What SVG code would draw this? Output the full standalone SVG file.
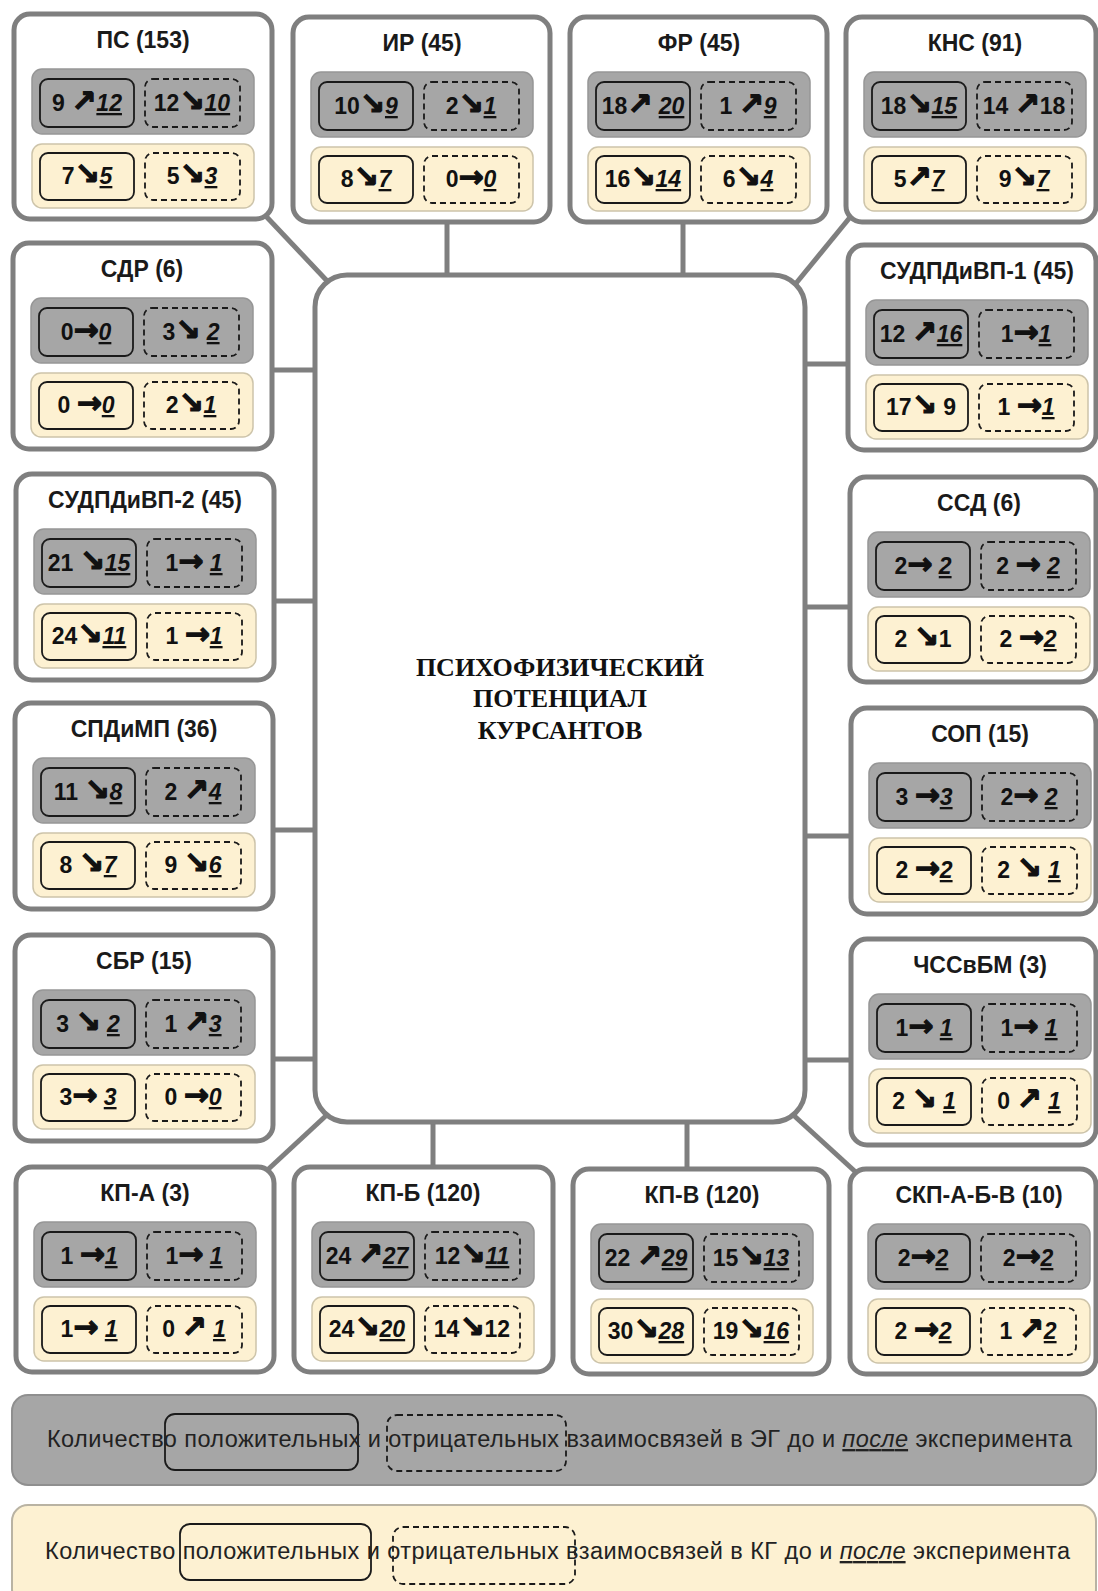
<svg xmlns="http://www.w3.org/2000/svg" xmlns:xlink="http://www.w3.org/1999/xlink" width="1098" height="1591" viewBox="0 0 1098 1591">
<style>
.ob{fill:#fff;stroke:#7f7f7f;stroke-width:5}
.gp{fill:#a6a6a6;stroke:#969696;stroke-width:1.5}
.yp{fill:#fdf1d2;stroke:#cdc4aa;stroke-width:1.5}
.sb{fill:none;stroke:#1a1a1a;stroke-width:1.8}
.db{fill:none;stroke:#1a1a1a;stroke-width:1.8;stroke-dasharray:6 4}
.t{font-family:"Liberation Sans",Arial,sans-serif;font-size:23px;font-weight:bold;text-anchor:middle;fill:#1a1a1a}
.c{font-family:"Liberation Sans",Arial,sans-serif;font-size:23px;font-weight:bold;text-anchor:middle;fill:#111}
.a{font-family:"DejaVu Sans",sans-serif;font-size:30px;font-weight:bold;font-style:normal;stroke:#111;stroke-width:1.2}
.u{font-style:italic;text-decoration:underline}
.conn line{stroke:#7f7f7f;stroke-width:5}
.ctr{fill:#fff;stroke:#7f7f7f;stroke-width:5}
.ct{font-family:"Liberation Serif","Times New Roman",serif;font-size:26px;font-weight:bold;text-anchor:middle;fill:#111}
.lg{font-family:"Liberation Sans",Arial,sans-serif;font-size:23.5px;fill:#222}
</style>
<defs>
<g id="inner">
<rect class="gp" x="18" y="55" width="222" height="65" rx="10"/>
<rect class="sb" x="26" y="65" width="94" height="48" rx="8"/>
<rect class="db" x="131" y="65" width="95" height="48" rx="8"/>
<rect class="yp" x="18" y="130" width="222" height="64" rx="10"/>
<rect class="sb" x="26" y="139" width="94" height="47" rx="8"/>
<rect class="db" x="131" y="139" width="95" height="47" rx="8"/>
</g>
</defs>

<g id="connectors" class="conn">
<line x1="262" y1="212" x2="330" y2="284"/>
<line x1="447" y1="215" x2="447" y2="282"/>
<line x1="683" y1="215" x2="683" y2="282"/>
<line x1="856" y1="210" x2="793" y2="287"/>
<line x1="265" y1="370" x2="322" y2="370"/>
<line x1="265" y1="601" x2="322" y2="601"/>
<line x1="265" y1="830" x2="322" y2="830"/>
<line x1="265" y1="1059" x2="322" y2="1059"/>
<line x1="798" y1="364" x2="856" y2="364"/>
<line x1="798" y1="607" x2="856" y2="607"/>
<line x1="798" y1="836" x2="856" y2="836"/>
<line x1="798" y1="1060" x2="856" y2="1060"/>
<line x1="262" y1="1175" x2="330" y2="1112"/>
<line x1="433" y1="1115" x2="433" y2="1172"/>
<line x1="687" y1="1115" x2="687" y2="1174"/>
<line x1="790" y1="1112" x2="860" y2="1176"/>
</g>

<g id="center">
<rect class="ctr" x="315" y="275" width="490" height="847" rx="32"/>
<text class="ct" x="560" y="676">ПСИХОФИЗИЧЕСКИЙ</text>
<text class="ct" x="560" y="707">ПОТЕНЦИАЛ</text>
<text class="ct" x="560" y="739">КУРСАНТОВ</text>
</g>

<g id="n-ps" transform="translate(14,14)">
<rect class="ob" width="258" height="205" rx="16"/><use xlink:href="#inner"/>
<text class="t" x="129" y="34">ПС (153)</text>
<text class="c" x="73" y="97">9 <tspan class="a">↗</tspan><tspan class="u">12</tspan></text>
<text class="c" x="178" y="97">12<tspan class="a">↘</tspan><tspan class="u">10</tspan></text>
<text class="c" x="73" y="170">7<tspan class="a">↘</tspan><tspan class="u">5</tspan></text>
<text class="c" x="178" y="170">5<tspan class="a">↘</tspan><tspan class="u">3</tspan></text>
</g>

<g id="n-ir" transform="translate(293,17)">
<rect class="ob" width="257" height="205" rx="16"/><use xlink:href="#inner"/>
<text class="t" x="129" y="34">ИР (45)</text>
<text class="c" x="73" y="97">10<tspan class="a">↘</tspan><tspan class="u">9</tspan></text>
<text class="c" x="178" y="97">2<tspan class="a">↘</tspan><tspan class="u">1</tspan></text>
<text class="c" x="73" y="170">8<tspan class="a">↘</tspan><tspan class="u">7</tspan></text>
<text class="c" x="178" y="170">0<tspan class="a">→</tspan><tspan class="u">0</tspan></text>
</g>

<g id="n-fr" transform="translate(570,17)">
<rect class="ob" width="257" height="205" rx="16"/><use xlink:href="#inner"/>
<text class="t" x="129" y="34">ФР (45)</text>
<text class="c" x="73" y="97">18<tspan class="a">↗</tspan> <tspan class="u">20</tspan></text>
<text class="c" x="178" y="97">1 <tspan class="a">↗</tspan><tspan class="u">9</tspan></text>
<text class="c" x="73" y="170">16<tspan class="a">↘</tspan><tspan class="u">14</tspan></text>
<text class="c" x="178" y="170">6<tspan class="a">↘</tspan><tspan class="u">4</tspan></text>
</g>

<g id="n-kns" transform="translate(846,17)">
<rect class="ob" width="250" height="205" rx="16"/><use xlink:href="#inner"/>
<text class="t" x="129" y="34">КНС (91)</text>
<text class="c" x="73" y="97">18<tspan class="a">↘</tspan><tspan class="u">15</tspan></text>
<text class="c" x="178" y="97">14 <tspan class="a">↗</tspan>18</text>
<text class="c" x="73" y="170">5<tspan class="a">↗</tspan><tspan class="u">7</tspan></text>
<text class="c" x="178" y="170">9<tspan class="a">↘</tspan><tspan class="u">7</tspan></text>
</g>

<g id="n-sdr" transform="translate(13,243)">
<rect class="ob" width="259" height="206" rx="16"/><use xlink:href="#inner"/>
<text class="t" x="129" y="34">СДР (6)</text>
<text class="c" x="73" y="97">0<tspan class="a">→</tspan><tspan class="u">0</tspan></text>
<text class="c" x="178" y="97">3<tspan class="a">↘</tspan> <tspan class="u">2</tspan></text>
<text class="c" x="73" y="170">0 <tspan class="a">→</tspan><tspan class="u">0</tspan></text>
<text class="c" x="178" y="170">2<tspan class="a">↘</tspan><tspan class="u">1</tspan></text>
</g>

<g id="n-sudpdivp2" transform="translate(16,474)">
<rect class="ob" width="258" height="206" rx="16"/><use xlink:href="#inner"/>
<text class="t" x="129" y="34">СУДПДиВП-2 (45)</text>
<text class="c" x="73" y="97">21 <tspan class="a">↘</tspan><tspan class="u">15</tspan></text>
<text class="c" x="178" y="97">1<tspan class="a">→</tspan> <tspan class="u">1</tspan></text>
<text class="c" x="73" y="170">24<tspan class="a">↘</tspan><tspan class="u">11</tspan></text>
<text class="c" x="178" y="170">1 <tspan class="a">→</tspan><tspan class="u">1</tspan></text>
</g>

<g id="n-spdimp" transform="translate(15,703)">
<rect class="ob" width="258" height="206" rx="16"/><use xlink:href="#inner"/>
<text class="t" x="129" y="34">СПДиМП (36)</text>
<text class="c" x="73" y="97">11 <tspan class="a">↘</tspan><tspan class="u">8</tspan></text>
<text class="c" x="178" y="97">2 <tspan class="a">↗</tspan><tspan class="u">4</tspan></text>
<text class="c" x="73" y="170">8 <tspan class="a">↘</tspan><tspan class="u">7</tspan></text>
<text class="c" x="178" y="170">9 <tspan class="a">↘</tspan><tspan class="u">6</tspan></text>
</g>

<g id="n-sbr" transform="translate(15,935)">
<rect class="ob" width="258" height="206" rx="16"/><use xlink:href="#inner"/>
<text class="t" x="129" y="34">СБР (15)</text>
<text class="c" x="73" y="97">3 <tspan class="a">↘</tspan> <tspan class="u">2</tspan></text>
<text class="c" x="178" y="97">1 <tspan class="a">↗</tspan><tspan class="u">3</tspan></text>
<text class="c" x="73" y="170">3<tspan class="a">→</tspan> <tspan class="u">3</tspan></text>
<text class="c" x="178" y="170">0 <tspan class="a">→</tspan><tspan class="u">0</tspan></text>
</g>

<g id="n-sudpdivp1" transform="translate(848,245)">
<rect class="ob" width="248" height="205" rx="16"/><use xlink:href="#inner"/>
<text class="t" x="129" y="34">СУДПДиВП-1 (45)</text>
<text class="c" x="73" y="97">12 <tspan class="a">↗</tspan><tspan class="u">16</tspan></text>
<text class="c" x="178" y="97">1<tspan class="a">→</tspan><tspan class="u">1</tspan></text>
<text class="c" x="73" y="170">17<tspan class="a">↘</tspan> 9</text>
<text class="c" x="178" y="170">1 <tspan class="a">→</tspan><tspan class="u">1</tspan></text>
</g>

<g id="n-ssd" transform="translate(850,477)">
<rect class="ob" width="246" height="205" rx="16"/><use xlink:href="#inner"/>
<text class="t" x="129" y="34">ССД (6)</text>
<text class="c" x="73" y="97">2<tspan class="a">→</tspan> <tspan class="u">2</tspan></text>
<text class="c" x="178" y="97">2 <tspan class="a">→</tspan> <tspan class="u">2</tspan></text>
<text class="c" x="73" y="170">2 <tspan class="a">↘</tspan>1</text>
<text class="c" x="178" y="170">2 <tspan class="a">→</tspan><tspan class="u">2</tspan></text>
</g>

<g id="n-sop" transform="translate(851,708)">
<rect class="ob" width="245" height="206" rx="16"/><use xlink:href="#inner"/>
<text class="t" x="129" y="34">СОП (15)</text>
<text class="c" x="73" y="97">3 <tspan class="a">→</tspan><tspan class="u">3</tspan></text>
<text class="c" x="178" y="97">2<tspan class="a">→</tspan> <tspan class="u">2</tspan></text>
<text class="c" x="73" y="170">2 <tspan class="a">→</tspan><tspan class="u">2</tspan></text>
<text class="c" x="178" y="170">2 <tspan class="a">↘</tspan> <tspan class="u">1</tspan></text>
</g>

<g id="n-chssvbm" transform="translate(851,939)">
<rect class="ob" width="245" height="206" rx="16"/><use xlink:href="#inner"/>
<text class="t" x="129" y="34">ЧССвБМ (3)</text>
<text class="c" x="73" y="97">1<tspan class="a">→</tspan> <tspan class="u">1</tspan></text>
<text class="c" x="178" y="97">1<tspan class="a">→</tspan> <tspan class="u">1</tspan></text>
<text class="c" x="73" y="170">2 <tspan class="a">↘</tspan> <tspan class="u">1</tspan></text>
<text class="c" x="178" y="170">0 <tspan class="a">↗</tspan> <tspan class="u">1</tspan></text>
</g>

<g id="n-kpa" transform="translate(16,1167)">
<rect class="ob" width="258" height="205" rx="16"/><use xlink:href="#inner"/>
<text class="t" x="129" y="34">КП-А (3)</text>
<text class="c" x="73" y="97">1 <tspan class="a">→</tspan><tspan class="u">1</tspan></text>
<text class="c" x="178" y="97">1<tspan class="a">→</tspan> <tspan class="u">1</tspan></text>
<text class="c" x="73" y="170">1<tspan class="a">→</tspan> <tspan class="u">1</tspan></text>
<text class="c" x="178" y="170">0 <tspan class="a">↗</tspan> <tspan class="u">1</tspan></text>
</g>

<g id="n-kpb" transform="translate(294,1167)">
<rect class="ob" width="259" height="205" rx="16"/><use xlink:href="#inner"/>
<text class="t" x="129" y="34">КП-Б (120)</text>
<text class="c" x="73" y="97">24 <tspan class="a">↗</tspan><tspan class="u">27</tspan></text>
<text class="c" x="178" y="97">12<tspan class="a">↘</tspan><tspan class="u">11</tspan></text>
<text class="c" x="73" y="170">24<tspan class="a">↘</tspan><tspan class="u">20</tspan></text>
<text class="c" x="178" y="170">14<tspan class="a">↘</tspan>12</text>
</g>

<g id="n-kpv" transform="translate(573,1169)">
<rect class="ob" width="256" height="205" rx="16"/><use xlink:href="#inner"/>
<text class="t" x="129" y="34">КП-В (120)</text>
<text class="c" x="73" y="97">22 <tspan class="a">↗</tspan><tspan class="u">29</tspan></text>
<text class="c" x="178" y="97">15<tspan class="a">↘</tspan><tspan class="u">13</tspan></text>
<text class="c" x="73" y="170">30<tspan class="a">↘</tspan><tspan class="u">28</tspan></text>
<text class="c" x="178" y="170">19<tspan class="a">↘</tspan><tspan class="u">16</tspan></text>
</g>

<g id="n-skpabv" transform="translate(850,1169)">
<rect class="ob" width="246" height="205" rx="16"/><use xlink:href="#inner"/>
<text class="t" x="129" y="34">СКП-А-Б-В (10)</text>
<text class="c" x="73" y="97">2<tspan class="a">→</tspan><tspan class="u">2</tspan></text>
<text class="c" x="178" y="97">2<tspan class="a">→</tspan><tspan class="u">2</tspan></text>
<text class="c" x="73" y="170">2 <tspan class="a">→</tspan><tspan class="u">2</tspan></text>
<text class="c" x="178" y="170">1 <tspan class="a">↗</tspan><tspan class="u">2</tspan></text>
</g>

<g id="legend-eg">
<rect x="12" y="1395" width="1084" height="90" rx="16" fill="#a6a6a6" stroke="#8f8f8f" stroke-width="2"/>
<rect class="sb" x="165" y="1414" width="193" height="56" rx="10"/>
<rect class="db" x="387" y="1415" width="179" height="56" rx="10"/>
<text class="lg" x="47" y="1447" textLength="1025" lengthAdjust="spacing">Количество положительных  и отрицательных взаимосвязей в ЭГ до и <tspan class="u">после</tspan> эксперимента</text>
</g>

<g id="legend-kg">
<rect x="12" y="1505" width="1084" height="100" rx="16" fill="#fdf1d2" stroke="#b9b3a3" stroke-width="2"/>
<rect class="sb" x="180" y="1524" width="191" height="56" rx="10"/>
<rect class="db" x="393" y="1527" width="182" height="57" rx="10"/>
<text class="lg" x="45" y="1559" textLength="1025" lengthAdjust="spacing">Количество положительных  и отрицательных взаимосвязей в КГ до и <tspan class="u">после</tspan> эксперимента</text>
</g>
</svg>
